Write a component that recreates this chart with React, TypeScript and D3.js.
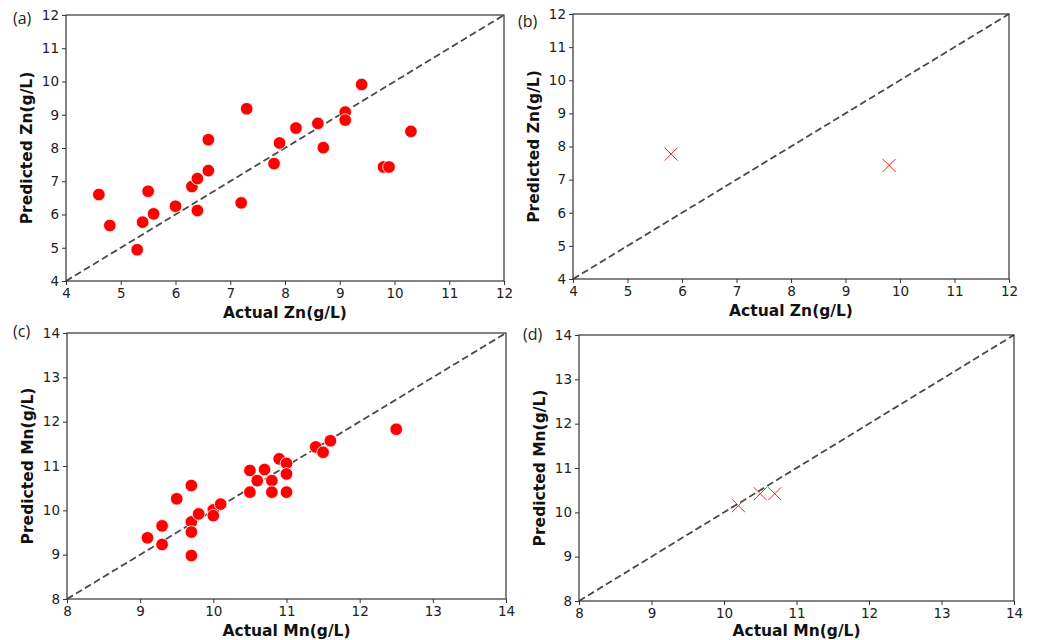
import React, { useEffect, useRef } from 'react';
import * as d3 from 'd3';

// panel (a) - Zn, training-type points (circles)
const znActualA = [4.6, 4.8, 5.3, 5.4, 5.5, 5.6, 6.0, 6.3, 6.4, 6.4, 6.6, 6.6, 7.2, 7.3, 7.8, 7.9, 8.2, 8.6, 8.7, 9.1, 9.1, 9.4, 9.8, 9.9, 10.3];
const znPredA = [6.6, 5.67, 4.94, 5.77, 6.7, 6.02, 6.25, 6.84, 7.08, 6.12, 8.25, 7.32, 6.35, 9.18, 7.53, 8.15, 8.6, 8.74, 8.01, 9.08, 8.84, 9.91, 7.43, 7.43, 8.5];

// panel (b) - Zn, crosses
const znActualB = [5.8, 9.8];
const znPredB = [7.77, 7.43];

// panel (c) - Mn, circles
const mnActualC = [9.1, 9.3, 9.3, 9.5, 9.7, 9.7, 9.7, 9.7, 9.8, 10.0, 10.0, 10.1, 10.5, 10.5, 10.6, 10.7, 10.8, 10.8, 10.9, 11.0, 11.0, 11.0, 11.4, 11.5, 11.6, 12.5];
const mnPredC = [9.38, 9.65, 9.23, 10.26, 10.56, 9.74, 9.51, 8.98, 9.92, 10.01, 9.88, 10.14, 10.9, 10.41, 10.67, 10.92, 10.67, 10.41, 11.16, 11.06, 10.82, 10.41, 11.43, 11.31, 11.57, 11.83];

// panel (d) - Mn, crosses
const mnActualD = [10.2, 10.5, 10.7];
const mnPredD = [10.15, 10.42, 10.42];

const znTicks = [4, 5, 6, 7, 8, 9, 10, 11, 12];
const mnTicks = [8, 9, 10, 11, 12, 13, 14];

const panels = [
  { tag: '(a)', tagX: 13, tagY: 24, box: [66, 15, 504, 281], xs: znActualA, ys: znPredA, dom: [4, 12], ticks: znTicks, marker: 'o', xl: 'Actual Zn(g/L)', yl: 'Predicted Zn(g/L)', xlDy: 37 },
  { tag: '(b)', tagX: 518, tagY: 27, box: [573, 14, 1009, 279], xs: znActualB, ys: znPredB, dom: [4, 12], ticks: znTicks, marker: 'x', xl: 'Actual Zn(g/L)', yl: 'Predicted Zn(g/L)', xlDy: 37 },
  { tag: '(c)', tagX: 13, tagY: 337, box: [67, 333, 506, 599], xs: mnActualC, ys: mnPredC, dom: [8, 14], ticks: mnTicks, marker: 'o', xl: 'Actual Mn(g/L)', yl: 'Predicted Mn(g/L)', xlDy: 37 },
  { tag: '(d)', tagX: 523, tagY: 340, box: [579, 335, 1014, 601], xs: mnActualD, ys: mnPredD, dom: [8, 14], ticks: mnTicks, marker: 'x', xl: 'Actual Mn(g/L)', yl: 'Predicted Mn(g/L)', xlDy: 35 },
];

const App = () => {
  const ref = useRef<SVGSVGElement>(null);

  useEffect(() => {
    const svg = d3.select(ref.current);
    svg.selectAll('*').remove();

    panels.forEach(p => {
      const [x0, y0, x1, y1] = p.box;
      const x = d3.scaleLinear().domain(p.dom).range([x0, x1]);
      const y = d3.scaleLinear().domain(p.dom).range([y1, y0]);
      const g = svg.append('g');

      // 1:1 reference line
      g.append('line')
        .attr('x1', x(p.dom[0])).attr('y1', y(p.dom[0]))
        .attr('x2', x(p.dom[1])).attr('y2', y(p.dom[1]))
        .attr('stroke', '#4a4a4a').attr('stroke-width', 1.8)
        .attr('stroke-dasharray', '7,3.5');

      if (p.marker === 'o') {
        g.selectAll('circle')
          .data(p.xs)
          .join('circle')
          .attr('cx', d => x(d))
          .attr('cy', (d, i) => y(p.ys[i]))
          .attr('r', 6.3)
          .attr('fill', '#ff0000')
          .attr('stroke', 'white')
          .attr('stroke-width', 0.8);
      } else {
        const s = 6.5;
        g.selectAll('path.mk')
          .data(p.xs)
          .join('path')
          .attr('class', 'mk')
          .attr('d', (d, i) => {
            const cx = x(d), cy = y(p.ys[i]);
            return `M${cx - s},${cy - s}L${cx + s},${cy + s}M${cx - s},${cy + s}L${cx + s},${cy - s}`;
          })
          .attr('stroke', '#ff2020').attr('stroke-width', 1).attr('fill', 'none');
      }

      // frame
      g.append('rect')
        .attr('x', x0).attr('y', y0)
        .attr('width', x1 - x0).attr('height', y1 - y0)
        .attr('fill', 'none').attr('stroke', '#333').attr('stroke-width', 1.2);

      const xAxis = g.append('g')
        .attr('transform', `translate(0,${y1})`)
        .call(d3.axisBottom(x).tickValues(p.ticks).tickSize(4).tickPadding(3).tickFormat(d3.format('d')));
      const yAxis = g.append('g')
        .attr('transform', `translate(${x0},0)`)
        .call(d3.axisLeft(y).tickValues(p.ticks).tickSize(4).tickPadding(3).tickFormat(d3.format('d')));
      [xAxis, yAxis].forEach(a => {
        a.select('.domain').remove();
        a.selectAll('line').attr('stroke', '#333');
        a.selectAll('text').attr('font-family', 'DejaVu Sans').attr('font-size', 13.5).attr('fill', '#222');
      });

      g.append('text')
        .attr('x', (x0 + x1) / 2).attr('y', y1 + p.xlDy)
        .attr('text-anchor', 'middle')
        .attr('font-family', 'DejaVu Sans').attr('font-weight', 'bold').attr('font-size', 15.5)
        .attr('fill', '#111')
        .text(p.xl);

      g.append('text')
        .attr('transform', `translate(${x0 - 34},${(y0 + y1) / 2}) rotate(-90)`)
        .attr('text-anchor', 'middle')
        .attr('font-family', 'DejaVu Sans').attr('font-weight', 'bold').attr('font-size', 15.5)
        .attr('fill', '#111')
        .text(p.yl);

      svg.append('text')
        .attr('x', p.tagX).attr('y', p.tagY)
        .attr('font-family', 'Open Sans').attr('font-size', 16)
        .attr('fill', '#222')
        .text(p.tag);
    });
  }, []);

  return (
    <div style={{ position: 'absolute', left: 0, top: 0 }}>
      <svg ref={ref} width={1037} height={640} style={{ display: 'block', background: 'white' }}></svg>
    </div>
  );
};

export default App;
